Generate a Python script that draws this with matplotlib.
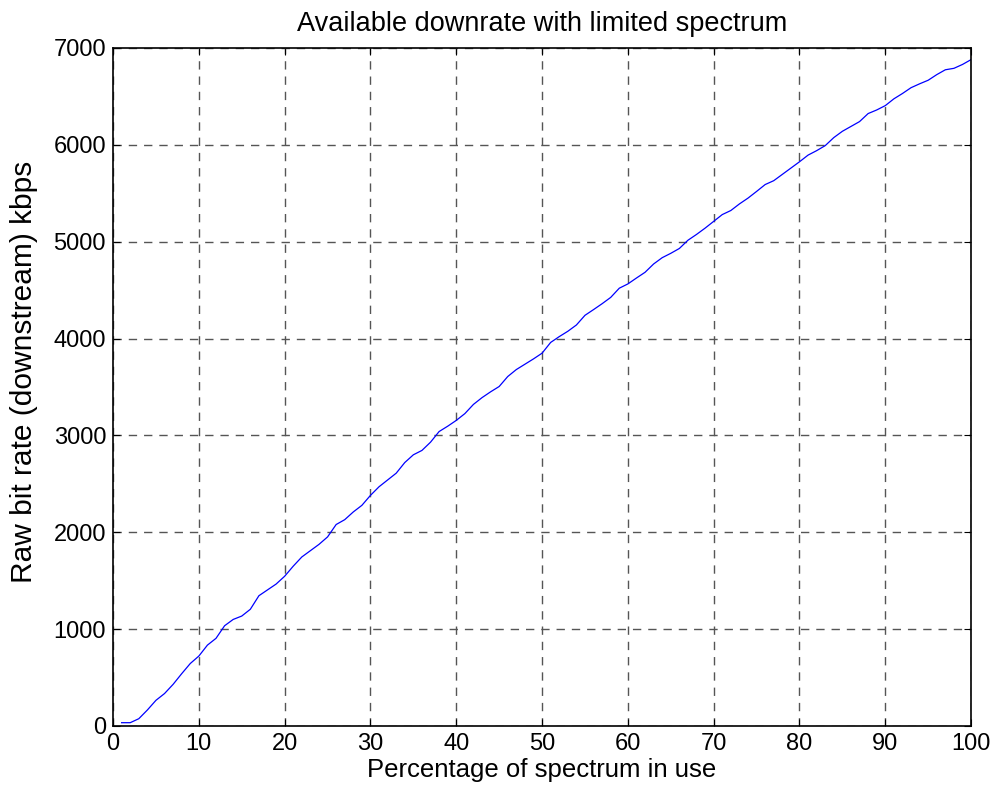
import numpy as np
import matplotlib.pyplot as plt

plt.rcParams['font.family'] = ['Liberation Sans', 'DejaVu Sans']

# Spectrum share (%) and the raw downstream rate it supports (kbps)
percent = np.arange(1, 101)
rate_kbps = [
    34, 34, 75, 165, 265, 335, 430, 540, 645, 722,
    835, 905, 1035, 1100, 1135, 1205, 1345, 1405, 1465, 1546,
    1650, 1745, 1810, 1875, 1952, 2080, 2130, 2210, 2278, 2381,
    2470, 2540, 2610, 2720, 2800, 2845, 2930, 3040, 3095, 3155,
    3225, 3320, 3390, 3450, 3505, 3608, 3680, 3735, 3790, 3849,
    3960, 4020, 4075, 4140, 4240, 4299, 4360, 4425, 4520, 4564,
    4625, 4684, 4770, 4835, 4880, 4930, 5015, 5075, 5140, 5210,
    5280, 5322, 5390, 5450, 5519, 5590, 5630, 5695, 5760, 5825,
    5894, 5940, 5992, 6075, 6140, 6190, 6240, 6323, 6360, 6405,
    6475, 6530, 6590, 6630, 6667, 6725, 6775, 6790, 6830, 6880,
]
xticks = np.arange(0, 101, 10)
yticks = np.arange(0, 7001, 1000)

fig = plt.figure(figsize=(9.96, 7.97), dpi=100)
ax = fig.add_axes([0.1135, 0.0891, 0.8615, 0.8507])

ax.plot(percent, rate_kbps, color='#0000ff', linewidth=0.9)

ax.set_xlim(0, 100)
ax.set_ylim(0, 7000)
ax.set_xticks(xticks)
ax.set_yticks(yticks)
ax.grid(True, linestyle=(0, (6, 5)), color='#555555', linewidth=1.0)
ax.tick_params(direction='in', top=True, right=True, labelsize=17, length=5, pad=5)
for s in ax.spines.values():
    s.set_linewidth(1.2)

ax.set_title('Available downrate with limited spectrum', fontsize=19.5, pad=12)
ax.set_xlabel('Percentage of spectrum in use', fontsize=18.5, labelpad=2)
ax.set_ylabel('Raw bit rate (downstream) kbps', fontsize=21.5)
ax.yaxis.set_label_coords(-0.088, 0.522)

fig.savefig('out.png', dpi=100)
